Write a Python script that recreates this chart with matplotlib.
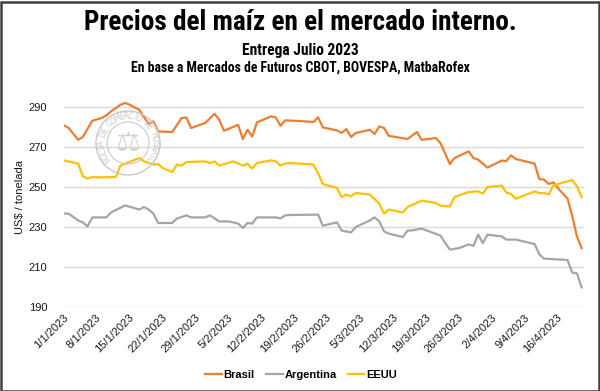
import numpy as np
import matplotlib
matplotlib.use("Agg")
import matplotlib.pyplot as plt
import matplotlib.transforms as mtransforms
from matplotlib.patches import Rectangle, Ellipse

# ---------------- data (days since 1/1/2023) ----------------
brasil_days = [0, 1, 3, 4, 6, 8, 9, 10, 12, 13, 14, 15, 16, 18, 19, 20, 23, 25, 26, 27,
               30, 32, 33, 34, 37, 38, 39, 40, 41, 44, 45, 46, 47, 50, 53, 54, 55, 58, 59, 60,
               61, 62, 65, 66, 67, 68, 69, 73, 75, 76, 79, 80, 82, 83, 86, 87, 88, 90, 93, 94,
               95, 96, 100, 101, 102, 103, 104, 105, 107, 108, 109, 110]
brasil = [280.8, 279.5, 273.6, 275.0, 283.1, 284.5, 285.8, 287.8, 291.1, 292.0, 291.1, 289.8,
          288.6, 281.5, 282.8, 277.8, 277.5, 284.5, 284.8, 279.5, 282.0, 286.6, 283.6, 278.1,
          281.1, 274.0, 278.6, 275.3, 282.3, 285.3, 284.8, 280.6, 283.3, 283.0, 282.5, 284.8,
          279.8, 278.3, 277.0, 279.0, 275.0, 277.0, 278.6, 276.5, 280.3, 279.5, 275.6, 274.0,
          277.5, 273.6, 274.5, 272.0, 261.5, 264.5, 267.8, 264.5, 263.7, 259.7, 263.2, 263.0,
          265.8, 264.0, 261.7, 254.0, 253.7, 251.5, 252.3, 249.3, 244.2, 235.5, 225.3, 219.5]

argentina_days = [0, 1, 3, 4, 5, 6, 9, 10, 13, 16, 17, 18, 19, 20, 23, 24, 26, 27, 30, 31,
                  33, 35, 37, 38, 39, 40, 41, 45, 46, 47, 48, 54, 55, 58, 59, 61, 62, 65, 66,
                  67, 68, 69, 72, 73, 74, 76, 80, 81, 82, 84, 86, 87, 88, 89, 90, 93, 94, 96,
                  100, 101, 102, 107, 108, 109, 110]
argentina = [236.7, 236.7, 233.3, 232.3, 230.3, 234.8, 234.8, 237.3, 240.8, 238.7, 240.0, 238.7,
             236.7, 232.0, 232.0, 234.2, 235.8, 234.8, 234.8, 235.8, 232.8, 232.8, 231.7, 229.5,
             232.0, 231.7, 234.8, 234.8, 234.3, 235.8, 236.0, 236.2, 230.7, 232.3, 228.2, 227.3,
             230.0, 233.3, 234.8, 232.8, 227.8, 226.7, 225.0, 228.2, 228.3, 229.2, 225.7, 222.0,
             218.7, 219.5, 221.3, 220.5, 226.2, 222.0, 226.2, 225.3, 223.7, 223.7, 221.5, 216.3,
             214.2, 213.5, 207.2, 206.8, 199.8]

eeuu_days = [0, 3, 4, 5, 6, 8, 11, 12, 16, 17, 19, 20, 21, 23, 24, 25, 26, 30, 31, 32, 33,
             36, 38, 39, 40, 41, 44, 45, 46, 47, 48, 53, 54, 55, 58, 59, 60, 61, 62, 65, 67,
             68, 69, 72, 73, 74, 76, 79, 80, 82, 83, 86, 88, 89, 90, 93, 94, 95, 96, 100, 101,
             102, 103, 104, 108, 109, 110]
eeuu = [263.3, 261.7, 255.5, 254.2, 255.0, 254.8, 255.0, 260.7, 264.5, 262.8, 261.2, 261.5,
        259.5, 257.5, 261.2, 260.7, 262.5, 262.8, 262.0, 262.8, 260.7, 262.8, 260.7, 261.7,
        259.2, 262.0, 263.3, 262.8, 260.7, 261.7, 262.0, 261.2, 257.0, 251.5, 249.5, 245.0,
        246.2, 245.3, 247.0, 246.2, 241.7, 236.7, 238.7, 237.3, 240.0, 241.0, 243.2, 242.0,
        240.7, 240.3, 245.0, 247.5, 247.8, 246.7, 250.0, 250.7, 247.2, 246.5, 244.1, 247.8,
        247.0, 247.0, 246.3, 250.8, 253.5, 250.3, 245.0]

tick_days = [0, 7, 14, 21, 28, 35, 42, 49, 56, 63, 70, 77, 84, 91, 98, 105]
tick_labels = ["1/1/2023", "8/1/2023", "15/1/2023", "22/1/2023", "29/1/2023", "5/2/2023",
               "12/2/2023", "19/2/2023", "26/2/2023", "5/3/2023", "12/3/2023", "19/3/2023",
               "26/3/2023", "2/4/2023", "9/4/2023", "16/4/2023"]
y_ticks = [190, 210, 230, 250, 270, 290]

series_names = ["Brasil", "Argentina", "EEUU"]
colors = ["#ED7D31", "#A5A5A5", "#FFC000"]

# ---------------- figure ----------------
W, H = 600, 391
fig = plt.figure(figsize=(W / 100, H / 100), dpi=100)
fig.patch.set_facecolor("white")

ax = fig.add_axes([64 / W, 1 - 307 / H, (584 - 64) / W, (307 - 87) / H])
ax.set_facecolor("none")

for d, v, name, c in zip([brasil_days, argentina_days, eeuu_days],
                         [brasil, argentina, eeuu], series_names, colors):
    ax.plot(d, v, color=c, lw=1.6, label=name, solid_joinstyle="round", zorder=3)

ax.set_xlim(0, 110.5)
ax.set_ylim(190, 300)
ax.set_yticks(y_ticks)
ax.yaxis.grid(True, color="#d9d9d9", lw=1.0)
ax.set_axisbelow(True)
for s in ax.spines.values():
    s.set_visible(False)
ax.tick_params(axis="both", length=0)
ax.tick_params(axis="y", pad=12, labelsize=8, labelcolor="#1a1a1a")
ax.set_xticks(tick_days)
ax.set_xticklabels(tick_labels, rotation=45, ha="right", va="top",
                   fontsize=8, color="#1a1a1a", family="Liberation Sans")
ax.tick_params(axis="x", pad=4)
offset = mtransforms.ScaledTranslation(6 / 100, 0, fig.dpi_scale_trans)
for lab in ax.get_xticklabels():
    lab.set_transform(lab.get_transform() + offset)
for lab in ax.get_yticklabels():
    lab.set_family("Liberation Sans")

ax.set_ylabel("US$ / tonelada", fontsize=8, family="Liberation Sans", color="#1a1a1a")
ax.yaxis.set_label_coords(-(64 - 25) / (584 - 64), 0.5)

leg = ax.legend(loc="center", bbox_to_anchor=(301 / W, 1 - 375 / H),
                bbox_transform=fig.transFigure, ncol=3, frameon=False,
                prop={"family": "Liberation Sans", "weight": "bold", "size": 8},
                handlelength=1.5, handletextpad=0.15, columnspacing=1.0)

# ---------------- titles ----------------
title_fam = ["Roboto Condensed", "Liberation Sans", "DejaVu Sans"]
fig.text(0.5, 1 - 23 / H, "Precios del maíz en el mercado interno.", ha="center", va="center",
         fontsize=19.6, fontweight="bold", family=title_fam)
fig.text(0.5, 1 - 50 / H, "Entrega Julio 2023", ha="center", va="center",
         fontsize=11.2, fontweight="bold", family=title_fam)
fig.text(0.5, 1 - 68 / H, "En base a Mercados de Futuros CBOT, BOVESPA, MatbaRofex",
         ha="center", va="center", fontsize=9.9, fontweight="bold", family=title_fam)

# ---------------- watermark seal ----------------
cx, cy = 128, H - 143
wm = "#c9c9c9"
for r, lw in [(32, 1.0), (21, 0.8)]:
    e = Ellipse((cx / W, cy / H), 2 * r / W, 2 * r / H,
                transform=fig.transFigure, fill=False, ec=wm, lw=lw, zorder=1)
    fig.patches.append(e)
seal_text = "BOLSA DE COMERCIO DE ROSARIO"
angles = np.linspace(218, -38, len(seal_text))
for ch, th in zip(seal_text, angles):
    t = np.deg2rad(th)
    x = cx + 26.5 * np.cos(t)
    y = cy + 26.5 * np.sin(t)
    fig.text(x / W, y / H, ch, rotation=th - 90, ha="center", va="center",
             rotation_mode="anchor", fontsize=5.5, color=wm, family="DejaVu Sans")
fig.text(cx / W, cy / H, "\u2696", ha="center", va="center", fontsize=20, color="#d4d4d4",
         family="DejaVu Sans")

# ---------------- border ----------------
fig.patches.append(Rectangle((0.5 / W, 0.5 / H), 1 - 2 / W, 1 - 2 / H,
                             transform=fig.transFigure, fill=False, ec="#404040", lw=1.8,
                             zorder=10))

fig.savefig("out.png", dpi=100)
